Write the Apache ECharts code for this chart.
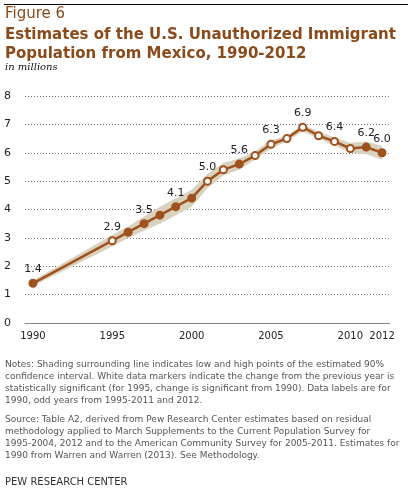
<!DOCTYPE html>
<html>
<head>
<meta charset="utf-8">
<script src="https://cdn.jsdelivr.net/npm/echarts@6/dist/echarts.min.js"></script>
<style>
  html, body { margin: 0; padding: 0; background: #fff; }
  #chart { width: 412px; height: 499px; }
</style>
</head>
<body>
<div id="chart"></div>
<script>
// data
var years = [1990, 1995, 1996, 1997, 1998, 1999, 2000, 2001, 2002, 2003, 2004, 2005, 2006, 2007, 2008, 2009, 2010, 2011, 2012];
var values = [1.4, 2.9, 3.2, 3.5, 3.8, 4.1, 4.4, 5.0, 5.4, 5.6, 5.9, 6.3, 6.5, 6.9, 6.6, 6.4, 6.15, 6.2, 6.0];
var lows = [1.3, 2.7, 3.0, 3.25, 3.5, 3.8, 4.1, 4.75, 5.2, 5.4, 5.75, 6.15, 6.4, 6.75, 6.5, 6.25, 6.0, 5.95, 5.75];
var highs = [1.5, 3.1, 3.4, 3.75, 4.1, 4.4, 4.7, 5.25, 5.65, 5.8, 6.05, 6.45, 6.6, 7.0, 6.75, 6.55, 6.35, 6.4, 6.25];
// true = white marker (significant change from previous year)
var significant = [false, true, false, false, false, false, false, true, true, false, true, true, true, true, true, true, true, false, false];
var labeledYears = [1990, 1995, 1997, 1999, 2001, 2003, 2005, 2007, 2009, 2011, 2012];
var xTicks = [1990, 1995, 2000, 2005, 2010, 2012];

var brown = '#a0521e';
var chart = echarts.init(document.getElementById('chart'));

var lineData = years.map(function (y, i) {
  return {
    value: [y, values[i]],
    itemStyle: { color: significant[i] ? '#fff' : brown, borderColor: brown, borderWidth: 2 },
    label: { show: labeledYears.indexOf(y) >= 0 }
  };
});

var noteColor = '#555';
var noteFont = '9px "DejaVu Sans", Verdana, sans-serif';

var option = {
  animation: false,
  grid: { left: 25, right: 22, top: 96, bottom: 176 },
  xAxis: {
    type: 'value', min: 1989.5, max: 2012.5,
    splitLine: { show: false },
    axisLine: { lineStyle: { color: '#888', width: 1 } },
    axisTick: { show: false },
    axisLabel: {
      customValues: xTicks, color: '#222', margin: 8,
      fontFamily: 'DejaVu Sans', fontSize: 10,
      formatter: function (v) { return String(v); }
    }
  },
  yAxis: {
    type: 'value', min: 0, max: 8, interval: 1,
    axisLine: { show: false }, axisTick: { show: false },
    axisLabel: { color: '#222', fontFamily: 'DejaVu Sans', fontSize: 11, margin: 14 },
    splitLine: { lineStyle: { color: '#777', type: [1, 2], width: 1 } }
  },
  series: [
    {
      type: 'custom', silent: true, z: 1,
      data: [0],
      renderItem: function (params, api) {
        var pts = [];
        years.forEach(function (y, i) { pts.push(api.coord([y, highs[i]])); });
        for (var i = years.length - 1; i >= 0; i--) pts.push(api.coord([years[i], lows[i]]));
        return { type: 'polygon', shape: { points: pts }, style: { fill: '#d9d2bf' } };
      }
    },
    {
      type: 'line', data: lineData, symbol: 'circle', symbolSize: 7,
      lineStyle: { color: brown, width: 2.5 },
      label: {
        position: 'top', distance: 4, color: '#222',
        fontFamily: 'DejaVu Sans', fontSize: 11,
        formatter: function (p) { return p.value[1].toFixed(1); }
      },
      z: 5
    }
  ],
  graphic: [
    { type: 'rect', shape: { x: 4, y: 4, width: 404, height: 1 }, style: { fill: '#000' } },
    { type: 'text', left: 5, top: 7, style: { text: 'Figure 6', font: '15px "DejaVu Sans", Verdana, sans-serif', fill: '#8a4a1a' } },
    { type: 'text', left: 5, top: 26, style: { text: 'Estimates of the U.S. Unauthorized Immigrant\nPopulation from Mexico, 1990-2012', font: 'bold 15px "DejaVu Sans", Verdana, sans-serif', lineHeight: 19, fill: '#8a4a1a' } },
    { type: 'text', left: 5, top: 62, style: { text: 'in millions', font: 'italic 10px "DejaVu Serif", Georgia, serif', fill: '#111' } },
    { type: 'text', left: 5, top: 359, style: { text: 'Notes: Shading surrounding line indicates low and high points of the estimated 90%\nconfidence interval. White data markers indicate the change from the previous year is\nstatistically significant (for 1995, change is significant from 1990). Data labels are for\n1990, odd years from 1995-2011 and 2012.', font: noteFont, lineHeight: 12, fill: noteColor } },
    { type: 'text', left: 5, top: 414, style: { text: 'Source: Table A2, derived from Pew Research Center estimates based on residual\nmethodology applied to March Supplements to the Current Population Survey for\n1995-2004, 2012 and to the American Community Survey for 2005-2011. Estimates for\n1990 from Warren and Warren (2013). See Methodology.', font: noteFont, lineHeight: 12, fill: noteColor } },
    { type: 'text', left: 5, top: 477, style: { text: 'PEW RESEARCH CENTER', font: '10px "DejaVu Sans", Verdana, sans-serif', fill: '#333' } }
  ]
};
chart.setOption(option);
</script>
</body>
</html>
